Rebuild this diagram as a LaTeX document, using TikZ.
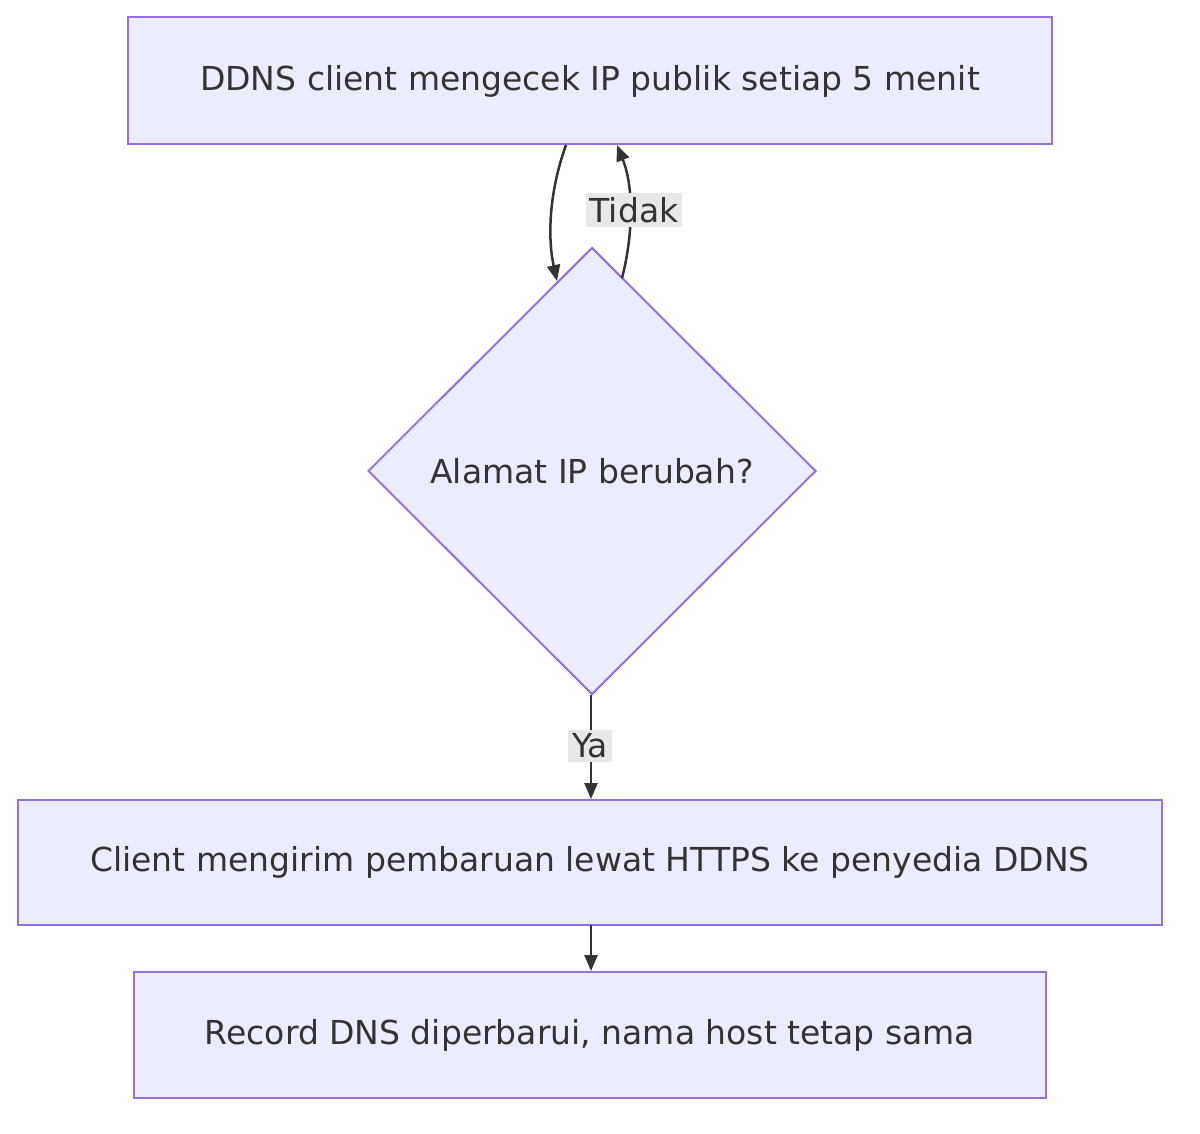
\documentclass[tikz,border=0pt]{standalone}
\usepackage{fontspec}
\setmainfont{DejaVu Sans}
\usetikzlibrary{shapes.geometric,arrows.meta}
\definecolor{nfill}{HTML}{ECECFF}
\definecolor{nline}{HTML}{9370DB}
\definecolor{eline}{HTML}{333333}
\definecolor{lbg}{HTML}{E8E8E8}
\begin{document}
\begin{tikzpicture}[x=1pt,y=-1pt,
 box/.style={draw=nline,fill=nfill,line width=2pt,inner sep=0pt,font=\fontsize{33}{38}\selectfont,text=eline},
 edge/.style={draw=eline,line width=2.5pt,-{Triangle[length=16pt,width=13pt]}},
 lab/.style={fill=lbg,font=\fontsize{33}{38}\selectfont,text=eline,inner sep=4pt}]
\useasboundingbox (0,0) rectangle (1200,1134);
\node[box,minimum width=924pt,minimum height=127pt] (a) at (590,81) {DDNS client mengecek IP publik setiap 5 menit};
\node[box,diamond,minimum width=448pt,minimum height=447pt] (d) at (592,471) {Alamat IP berubah?};
\node[box,minimum width=1144pt,minimum height=125pt] (b) at (590,862) {Client mengirim pembaruan lewat HTTPS ke penyedia DDNS};
\node[box,minimum width=912pt,minimum height=126pt] (c) at (590,1035) {Record DNS diperbarui, nama host tetap sama};
\coordinate (a1) at (566,145);
\coordinate (d1) at (557,281);
\coordinate (d2) at (622,278);
\coordinate (a2) at (617,145);
\coordinate (d3) at (591,695);
\coordinate (b1) at (591,799);
\coordinate (b2) at (591,925);
\coordinate (c1) at (591,971);
\draw[edge] (a1) .. controls (548,195) and (548,240) .. (d1);
\draw[edge] (d2) .. controls (632,240) and (635,190) .. (a2);
\node[lab] at (634,210) {Tidak};
\draw[edge] (d3) -- (b1);
\node[lab] at (590,746) {Ya};
\draw[edge] (b2) -- (c1);
\end{tikzpicture}
\end{document}
